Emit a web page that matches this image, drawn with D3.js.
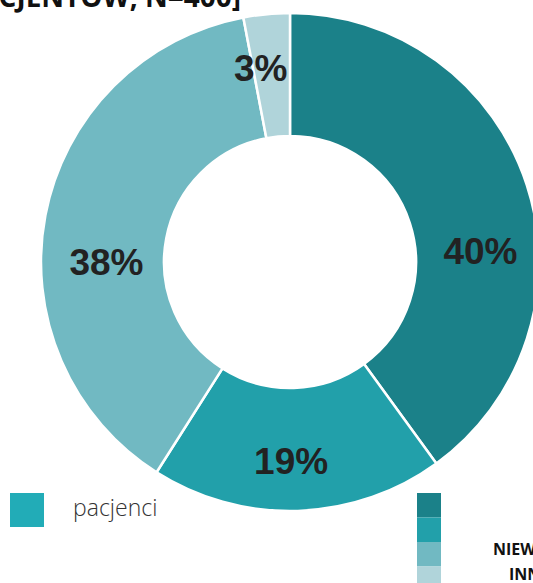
<!DOCTYPE html>
<html>
  <head>
    <meta charset="utf-8">
    <title>Donut</title>
    <script src="https://d3js.org/d3.v7.min.js"></script>
    <style>
      body { margin: 0; background: #fff; overflow: hidden; }
    </style>
  </head>
  <body>
    <script>
      var width = 533;
      var height = 583;

      // data
      var categories = ["kat1", "kat2", "kat3", "kat4"];
      var values = [40, 19, 38, 3];
      var colors = ["#1b8189", "#22a0aa", "#71b9c2", "#b0d4da"];
      var labelNudge = [[5, 49], [-5, 4], [8, 37], [-11, 0]];
      var legendRight = ["NIEWIEM", "INNE"];

      var svg = d3.select("body").append("svg").attr("width", width).attr("height", height);

      // title (cut at top, as in the source)
      svg.append("text")
        .attr("x", 241).attr("y", 7)
        .attr("text-anchor", "end")
        .attr("font-family", "Open Sans")
        .attr("font-weight", "bold")
        .attr("font-size", 28)
        .attr("fill", "#111")
        .text("[% PACJENTÓW, N=400]");

      var cx = 290, cy = 262;
      var outerR = 249, innerR = 126;

      var pie = d3.pie().sort(null).value((d) => d);
      var arcs = pie(values);

      var arc = d3.arc().innerRadius(innerR).outerRadius(outerR);
      var labelArc = d3.arc().innerRadius(195).outerRadius(195);

      var g = svg.append("g").attr("transform", "translate(" + cx + "," + cy + ")");

      g.selectAll("path")
        .data(arcs)
        .enter()
        .append("path")
        .attr("d", arc)
        .attr("fill", (d, i) => colors[i])
        .attr("stroke", "#fff")
        .attr("stroke-width", 2.5);

      g.selectAll("text")
        .data(arcs)
        .enter()
        .append("text")
        .attr("x", (d, i) => labelArc.centroid(d)[0] + labelNudge[i][0])
        .attr("y", (d, i) => labelArc.centroid(d)[1] + labelNudge[i][1] + 13)
        .attr("text-anchor", "middle")
        .attr("font-family", "Liberation Sans, Arial")
        .attr("font-weight", "bold")
        .attr("font-size", 37)
        .attr("fill", "#222")
        .text((d) => d.data + "%");

      // left legend
      svg.append("rect")
        .attr("x", 10).attr("y", 493).attr("width", 34).attr("height", 34)
        .attr("fill", "#22acb7");
      svg.append("text")
        .attr("x", 73).attr("y", 516)
        .attr("font-family", "Open Sans")
        .attr("font-weight", 300)
        .attr("font-size", 23)
        .attr("fill", "#333")
        .text("pacjenci");

      // right legend (cut off at the edge)
      var legY = d3.scaleBand().domain(categories).range([493, 591]);
      svg.append("g")
        .selectAll("rect")
        .data(categories)
        .enter()
        .append("rect")
        .attr("x", 417)
        .attr("y", (d) => legY(d))
        .attr("width", 24)
        .attr("height", legY.bandwidth())
        .attr("fill", (d, i) => colors[i]);

      svg.append("text")
        .attr("x", 493).attr("y", 555)
        .attr("font-family", "Open Sans")
        .attr("font-weight", "bold")
        .attr("font-size", 16)
        .attr("fill", "#111")
        .text(legendRight[0]);
      svg.append("text")
        .attr("x", 509).attr("y", 580)
        .attr("font-family", "Open Sans")
        .attr("font-weight", "bold")
        .attr("font-size", 16)
        .attr("fill", "#111")
        .text(legendRight[1]);
    </script>
  </body>
</html>
